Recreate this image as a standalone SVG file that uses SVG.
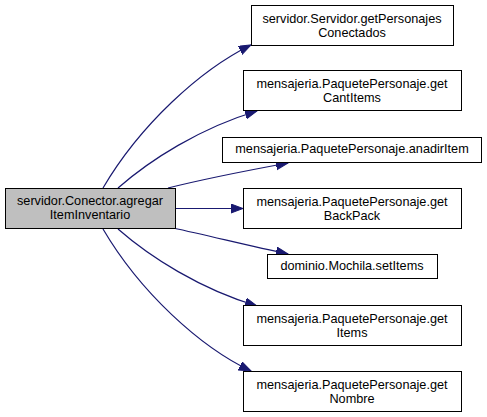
<svg xmlns="http://www.w3.org/2000/svg" width="487" height="417" viewBox="0 0 487 417">
<style>
.box{fill:#ffffff;stroke:#000000;stroke-width:1}
.src{fill:#bfbfbf;stroke:#000000;stroke-width:1}
text{font-family:"Liberation Sans",Arial,sans-serif;font-size:12.7px;fill:#000000;text-anchor:middle}
.edge{fill:none;stroke:#191970;stroke-width:1.2;marker-end:url(#arr)}
</style>
<defs>
<marker id="arr" markerUnits="userSpaceOnUse" markerWidth="13" markerHeight="10" refX="12" refY="4.5" orient="auto">
<path d="M0,0 L12,4.5 L0,9 z" fill="#191970" stroke="#191970" stroke-width="1"/>
</marker>
</defs>
<g id="edges">
<path class="edge" d="M103,188 C140,125 200,70 251,45"/>
<path class="edge" d="M118,188 C150,160 200,128 257,111"/>
<path class="edge" d="M168,188 C200,180 250,170 288,163"/>
<path class="edge" d="M175,208.5 L243,208.5"/>
<path class="edge" d="M173,228 C210,236 250,246 288,254"/>
<path class="edge" d="M118,229 C150,257 200,289 257,306"/>
<path class="edge" d="M103,229 C140,292 200,347 251,371"/>
</g>
<g id="source">
<rect class="src" x="5.5" y="188.5" width="170" height="40"/>
<text x="90" y="204.5">servidor.Conector.agregar</text>
<text x="90" y="218.5">ItemInventario</text>
</g>
<g id="n1">
<rect class="box" x="251.5" y="5.5" width="202" height="40"/>
<text x="352" y="22.5">servidor.Servidor.getPersonajes</text>
<text x="352" y="36.5">Conectados</text>
</g>
<g id="n2">
<rect class="box" x="243.5" y="70.5" width="218" height="40"/>
<text x="352" y="87.5">mensajeria.PaquetePersonaje.get</text>
<text x="352" y="101.5">CantItems</text>
</g>
<g id="n3">
<rect class="box" x="222.5" y="137.5" width="259" height="25"/>
<text x="352" y="153">mensajeria.PaquetePersonaje.anadirItem</text>
</g>
<g id="n4">
<rect class="box" x="243.5" y="188.5" width="218" height="40"/>
<text x="352" y="205.5">mensajeria.PaquetePersonaje.get</text>
<text x="352" y="219.5">BackPack</text>
</g>
<g id="n5">
<rect class="box" x="267.5" y="254.5" width="170" height="24"/>
<text x="352" y="269.5">dominio.Mochila.setItems</text>
</g>
<g id="n6">
<rect class="box" x="243.5" y="305.5" width="218" height="40"/>
<text x="352" y="322.5">mensajeria.PaquetePersonaje.get</text>
<text x="352" y="336.5">Items</text>
</g>
<g id="n7">
<rect class="box" x="243.5" y="371.5" width="218" height="40"/>
<text x="352" y="388.5">mensajeria.PaquetePersonaje.get</text>
<text x="352" y="402.5">Nombre</text>
</g>
</svg>
